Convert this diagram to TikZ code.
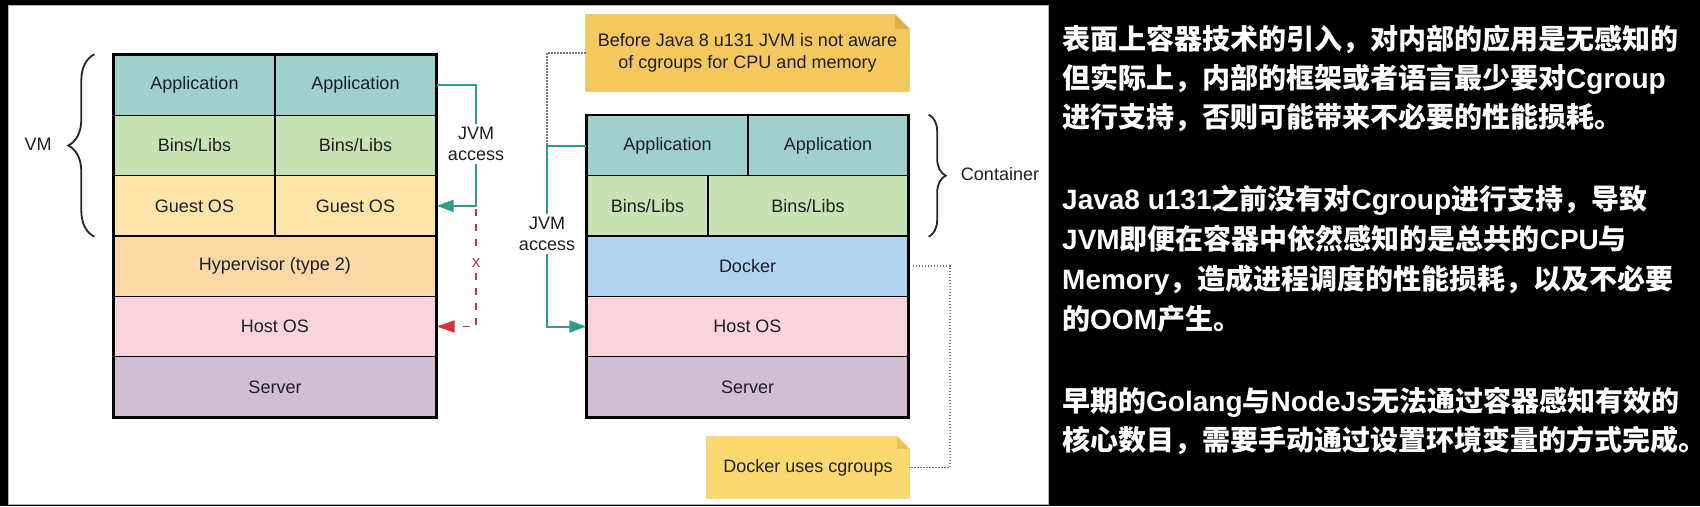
\documentclass[tikz,border=0pt]{standalone}
\usepackage{fontspec}
\setmainfont{Liberation Sans}
\newfontfamily\cjk{Noto Sans CJK SC}
\usetikzlibrary{arrows.meta,decorations.pathreplacing}
\pgfdeclarelayer{bg}
\pgfdeclarelayer{notes}
\pgfsetlayers{bg,notes,main}
\definecolor{appc}{HTML}{9FD0CC}
\definecolor{binc}{HTML}{C9E2B3}
\definecolor{guestc}{HTML}{FDE5A8}
\definecolor{hypc}{HTML}{FBD8A5}
\definecolor{hostc}{HTML}{FAD4DC}
\definecolor{servc}{HTML}{D1BED3}
\definecolor{dockc}{HTML}{B2D3F0}
\definecolor{noteA}{HTML}{F5C85E}
\definecolor{noteAf}{HTML}{DDB04E}
\definecolor{noteB}{HTML}{FCD96F}
\definecolor{noteBf}{HTML}{E6BF58}
\definecolor{tealc}{HTML}{2F9C88}
\definecolor{dredc}{HTML}{B23A55}
\definecolor{redh}{HTML}{D6343B}
\definecolor{txtc}{HTML}{1E1E26}
\definecolor{dotc}{HTML}{777777}
\newcommand{\zhs}[1]{{\cjk #1}}
\begin{document}
\begin{tikzpicture}[x=1pt,y=-1pt,
  cell/.style={draw=black, line width=1.4pt, inner sep=0pt, minimum height=60.33pt,
    font=\fontsize{18}{21}\selectfont, text=txtc},
  lbl/.style={font=\fontsize{18}{21}\selectfont, text=txtc, inner sep=3pt, align=center},
  notebox/.style={font=\fontsize{18}{22}\selectfont, text=txtc, inner sep=0pt, align=center},
  bracestyle/.style={draw=black!85, line width=1.8pt, decorate},
  tealline/.style={draw=tealc, line width=2pt},
  teallinearrow/.style={tealline, -{Triangle[length=17pt,width=12pt]}},
  reddash/.style={draw=dredc, line width=1.8pt, dash pattern=on 7pt off 8pt},
  xlbl/.style={font=\fontsize{17}{20}\selectfont, text=dredc, fill=white, inner sep=5pt},
  dotline/.style={draw=dotc, line width=1.5pt, dash pattern=on 1.5pt off 1.5pt},
  tline/.style={anchor=base west, inner sep=0pt, text=white, font=\fontsize{28}{34}\selectfont\bfseries}
]
\useasboundingbox (0,0) rectangle (1700,506);
\begin{pgfonlayer}{bg}
\fill[black] (0,0) rectangle (1700,506);
\fill[white, draw=gray!60, line width=1pt] (8,5) rectangle (1048,504);
\end{pgfonlayer}

% VM stack
\node[cell, fill=appc, minimum width=161pt] (va1) at (194.5,85.17) {Application};
\node[cell, fill=appc, minimum width=161pt] (va2) at (355.5,85.17) {Application};
\node[cell, fill=binc, minimum width=161pt] (vb1) at (194.5,145.5) {Bins/Libs};
\node[cell, fill=binc, minimum width=161pt] (vb2) at (355.5,145.5) {Bins/Libs};
\node[cell, fill=guestc, minimum width=161pt] (vg1) at (194.5,205.83) {Guest OS};
\node[cell, fill=guestc, minimum width=161pt] (vg2) at (355.5,205.83) {Guest OS};
\node[cell, fill=hypc, minimum width=322pt] (vhy) at (275,266.17) {Hypervisor (type 2)};
\node[cell, fill=hostc, minimum width=322pt] (vho) at (275,326.5) {Host OS};
\node[cell, fill=servc, minimum width=322pt] (vse) at (275,386.83) {Server};
\draw[line width=2pt] (va1.north west) rectangle (vse.south east);

% Container stack
\node[cell, fill=appc, minimum width=161pt] (ca1) at (667.5,145.5) {Application};
\node[cell, fill=appc, minimum width=160pt] (ca2) at (828,145.5) {Application};
\node[cell, fill=binc, minimum width=121pt] (cb1) at (647.5,205.83) {Bins/Libs};
\node[cell, fill=binc, minimum width=200pt] (cb2) at (808,205.83) {Bins/Libs};
\node[cell, fill=dockc, minimum width=321pt] (cdo) at (747.5,266.17) {Docker};
\node[cell, fill=hostc, minimum width=321pt] (cho) at (747.5,326.5) {Host OS};
\node[cell, fill=servc, minimum width=321pt] (cse) at (747.5,386.83) {Server};
\draw[line width=2pt] (ca1.north west) rectangle (cse.south east);

% braces and labels
\draw[bracestyle, decoration={brace, amplitude=26pt}] ([xshift=-19pt]vg1.south west) -- ([xshift=-19pt]va1.north west);
\node[lbl] (vmlbl) at (38,144) {VM};
\draw[bracestyle, decoration={brace, amplitude=17pt}] ([xshift=20pt]ca2.north east) -- ([xshift=20pt]cb2.south east);
\node[lbl] (ctlbl) at (1000,174) {Container};

% VM JVM access
\node[lbl, fill=white] (jvm1) at (476,144) {JVM\\access};
\draw[tealline] (va2.east) -| (jvm1.north);
\draw[teallinearrow] (jvm1.south) |- (vg2.east);
\coordinate (rs) at (476,209);
\node[xlbl] (xmark) at (476,263) {x};
\draw[reddash] (rs) -- (xmark.north);
\draw[reddash, -{Triangle[length=18pt,width=12pt,color=redh]}] (xmark.south) |- (vho.east);

% Container JVM access
\node[lbl, fill=white] (jvm2) at (547,234) {JVM\\access};
\coordinate (c2) at (jvm2.north |- ca1.west);
\draw[tealline] (ca1.west) -| (jvm2.north);
\draw[teallinearrow] (jvm2.south) |- (cho.west);

% notes
\node[notebox, minimum width=323pt, minimum height=76pt] (n1) at (747.5,53) {Before Java 8 u131 JVM is not aware\\of cgroups for CPU and memory};
\node[notebox, minimum width=202pt, minimum height=61pt] (n2) at (808,467.5) {Docker uses cgroups};
\begin{pgfonlayer}{notes}
\filldraw[fill=noteA, draw=noteAf!70!noteA, line width=0.8pt] (n1.south west) -- (n1.north west) -- ([xshift=-14pt]n1.north east) -- ([yshift=-14pt]n1.north east) -- (n1.south east) -- cycle;
\fill[noteAf] ([xshift=-14pt]n1.north east) -- ([yshift=-14pt]n1.north east) -- ([xshift=-14pt,yshift=-14pt]n1.north east) -- cycle;
\filldraw[fill=noteB, draw=noteBf!70!noteB, line width=0.8pt] (n2.south west) -- (n2.north west) -- ([xshift=-12pt]n2.north east) -- ([yshift=-12pt]n2.north east) -- (n2.south east) -- cycle;
\fill[noteBf] ([xshift=-12pt]n2.north east) -- ([yshift=-12pt]n2.north east) -- ([xshift=-12pt,yshift=-12pt]n2.north east) -- cycle;
\end{pgfonlayer}
\draw[dotline] (n1.west) -| (c2);
\coordinate (dk) at (950,266.17);
\draw[dotline, shorten <=4pt] (cdo.east) -- (dk) |- (n2.east);

% right text panel
\node[tline] (t1) at (1062,49.5) {\zhs{表面上容器技术的引入，对内部的应用是无感知的}};
\node[tline] (t2) at (1062,88.5) {\zhs{但实际上，内部的框架或者语言最少要对}Cgroup};
\node[tline] (t3) at (1062,127.5) {\zhs{进行支持，否则可能带来不必要的性能损耗。}};
\node[tline] (t4) at (1062,209.5) {Java8 u131\zhs{之前没有对}Cgroup\zhs{进行支持，导致}};
\node[tline] (t5) at (1062,249.5) {JVM\zhs{即便在容器中依然感知的是总共的}CPU\zhs{与}};
\node[tline] (t6) at (1062,289.5) {Memory\zhs{，造成进程调度的性能损耗，以及不必要}};
\node[tline] (t7) at (1062,329.5) {\zhs{的}OOM\zhs{产生。}};
\node[tline] (t8) at (1062,411) {\zhs{早期的}Golang\zhs{与}NodeJs\zhs{无法通过容器感知有效的}};
\node[tline] (t9) at (1062,450.5) {\zhs{核心数目，需要手动通过设置环境变量的方式完成。}};
\end{tikzpicture}
\end{document}
